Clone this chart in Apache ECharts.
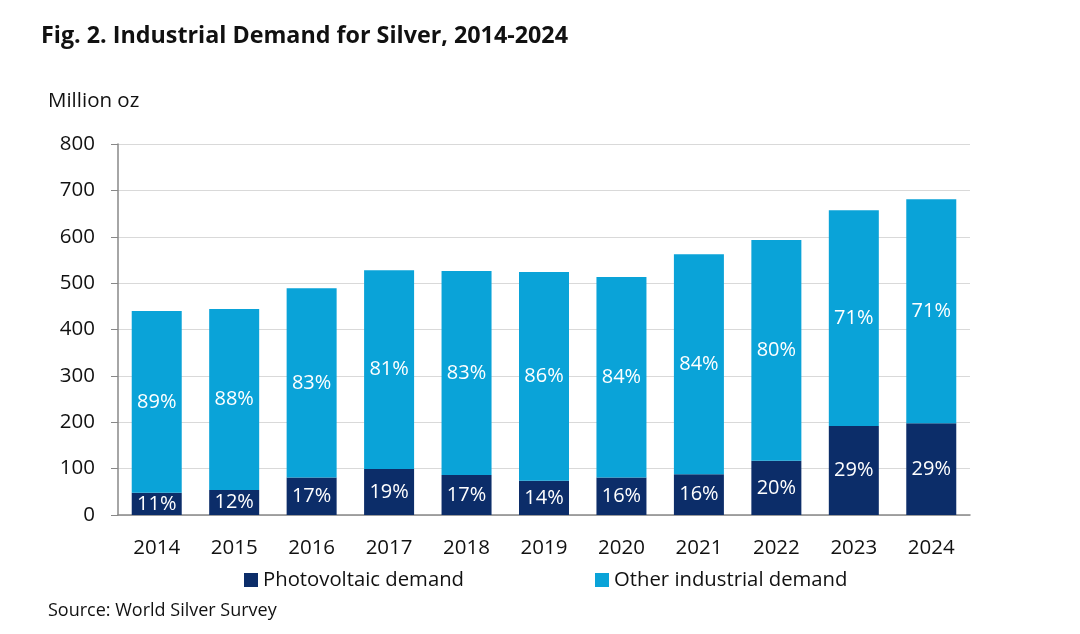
<!DOCTYPE html>
<html><head><meta charset="utf-8">
<script src="https://cdn.jsdelivr.net/npm/echarts@6/dist/echarts.min.js"></script>
<style>html,body{margin:0;padding:0;background:#fff}#c{width:1080px;height:634px}</style>
</head><body><div id="c"></div>
<script>
const years = ['2014','2015','2016','2017','2018','2019','2020','2021','2022','2023','2024'];
const pvDemand = [48, 54, 81, 99, 86, 74, 81, 88, 117, 192, 198];
const otherDemand = [392, 390, 408, 429, 440, 450, 432, 474, 476, 465, 483];
const pvShare = ['11%','12%','17%','19%','17%','14%','16%','16%','20%','29%','29%'];
const otherShare = ['89%','88%','83%','81%','83%','86%','84%','84%','80%','71%','71%'];
const yTicks = [0,100,200,300,400,500,600,700,800];

const font = '"Open Sans", "Noto Sans", sans-serif';
const chart = echarts.init(document.getElementById('c'));
chart.setOption({
  animation: false,
  backgroundColor: '#ffffff',
  textStyle: { fontFamily: font },
  title: [
    { text: 'Fig. 2. Industrial Demand for Silver, 2014-2024', left: 36, top: 20,
      textStyle: { fontFamily: font, fontWeight: 'bold', fontSize: 23.3, color: '#111' } },
    { text: 'Million oz', left: 43, top: 86, textStyle: { fontFamily: font, fontWeight: 'normal', fontSize: 20.5, color: '#111' } },
    { text: 'Source: World Silver Survey', left: 43, top: 597, textStyle: { fontFamily: font, fontWeight: 'normal', fontSize: 18, color: '#111' } }
  ],
  legend: {
    left: 239, top: 565, itemWidth: 14, itemHeight: 14, itemGap: 131,
    icon: 'rect',
    textStyle: { fontFamily: font, fontSize: 20.3, color: '#111' },
    data: ['Photovoltaic demand', 'Other industrial demand']
  },
  grid: { left: 118, right: 110, top: 144, bottom: 119 },
  xAxis: {
    type: 'category', data: years,
    axisLine: { lineStyle: { color: '#888', width: 1.5 } },
    axisTick: { show: false },
    axisLabel: { fontFamily: font, fontSize: 20.5, color: '#111', margin: 23 }
  },
  yAxis: {
    type: 'value', min: 0, max: yTicks[yTicks.length-1], interval: 100,
    axisLine: { show: true, lineStyle: { color: '#888', width: 1.5 } },
    axisTick: { show: true, length: 7, lineStyle: { color: '#888' } },
    axisLabel: { fontFamily: font, fontSize: 20.5, color: '#111', margin: 23 },
    splitLine: { lineStyle: { color: '#d9d9d9' } }
  },
  series: [
    { name: 'Photovoltaic demand', type: 'bar', stack: 't', barWidth: 50, data: pvDemand,
      itemStyle: { color: '#0c2d69' },
      label: { show: true, position: 'inside', color: '#fff', fontSize: 20, fontFamily: font,
        formatter: p => pvShare[p.dataIndex] } },
    { name: 'Other industrial demand', type: 'bar', stack: 't', barWidth: 50, data: otherDemand,
      itemStyle: { color: '#0aa3d8' },
      label: { show: true, position: 'inside', color: '#fff', fontSize: 20, fontFamily: font,
        formatter: p => otherShare[p.dataIndex] } }
  ]
});
</script></body></html>
